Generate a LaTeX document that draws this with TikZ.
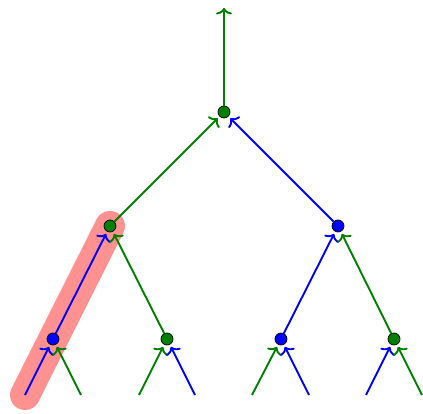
\documentclass[tikz,border=0pt]{standalone}
\usetikzlibrary{arrows.meta}
\definecolor{tg}{RGB}{0,128,0}
\definecolor{hl}{RGB}{255,145,145}
\begin{document}
\begin{tikzpicture}[x=1pt,y=-1pt,
  dot/.style={circle,draw=black,line width=0.7pt,inner sep=0pt,minimum size=12pt},
  gdot/.style={dot,fill=tg},
  bdot/.style={dot,fill=blue},
  edge/.style={line width=1.9pt,-{Computer Modern Rightarrow[width=16pt,length=6.5pt]},shorten >=2.5pt},
  ge/.style={edge,draw=tg},
  be/.style={edge,draw=blue},
  hilite/.style={line width=30pt,line cap=round,draw=hl}]
\useasboundingbox (0,0) rectangle (423,414);
\coordinate (l1) at (25,395);
\coordinate (l2) at (81,395);
\coordinate (l3) at (139,395);
\coordinate (l4) at (195,395);
\coordinate (l5) at (252,395);
\coordinate (l6) at (309,395);
\coordinate (l7) at (366,395);
\coordinate (l8) at (422,395);
\coordinate (top) at (224,8);
\draw[hilite] (l1) -- (110,226);
\node[bdot] (a) at (53,339) {};
\node[gdot] (b) at (167,339) {};
\node[bdot] (c) at (281,339) {};
\node[gdot] (d) at (394,339) {};
\node[gdot] (e) at (110,226) {};
\node[bdot] (f) at (338,226) {};
\node[gdot] (r) at (224,112) {};
\draw[be] (l1) -- (a);
\draw[ge] (l2) -- (a);
\draw[ge] (l3) -- (b);
\draw[be] (l4) -- (b);
\draw[ge] (l5) -- (c);
\draw[be] (l6) -- (c);
\draw[be] (l7) -- (d);
\draw[ge] (l8) -- (d);
\draw[be] (a) -- (e);
\draw[ge] (b) -- (e);
\draw[be] (c) -- (f);
\draw[ge] (d) -- (f);
\draw[ge] (e) -- (r);
\draw[be] (f) -- (r);
\draw[ge,shorten >=0pt] (r) -- (top);
\end{tikzpicture}
\end{document}
